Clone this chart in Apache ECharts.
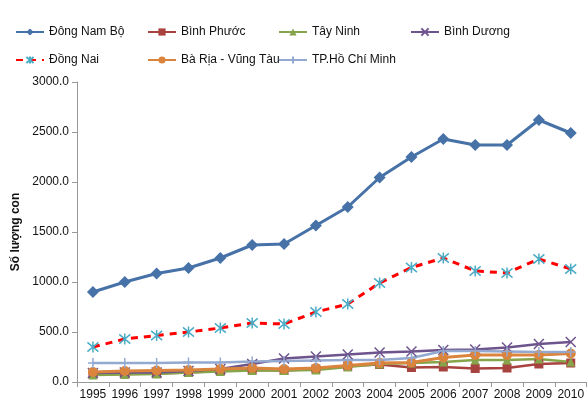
<!DOCTYPE html>
<html>
<head>
<meta charset="utf-8">
<script src="https://cdn.jsdelivr.net/npm/echarts@6/dist/echarts.min.js"></script>
<style>
  html, body { margin: 0; padding: 0; background: #fff; }
  #chart { width: 587px; height: 405px; }
</style>
</head>
<body>
<div id="chart"></div>
<script>
// Số lượng con theo năm, vùng Đông Nam Bộ và các tỉnh
const years = ['1995','1996','1997','1998','1999','2000','2001','2002','2003','2004','2005','2006','2007','2008','2009','2010'];
const dongNamBo = [900,1000,1085,1140,1240,1370,1380,1565,1750,2045,2250,2430,2370,2370,2620,2490];
const binhPhuoc = [80,80,85,95,110,120,115,130,160,175,145,150,135,140,180,190];
const tayNinh   = [70,75,80,95,105,115,115,120,150,180,190,200,220,220,230,200];
const binhDuong = [90,95,95,110,130,180,235,255,275,295,305,320,325,345,380,400];
const dongNai   = [350,430,465,500,540,590,580,700,780,990,1145,1240,1110,1090,1230,1130];
const baRia     = [100,110,115,120,130,140,130,140,165,190,195,245,270,270,270,285];
const tpHcm     = [190,190,190,195,195,205,210,215,220,220,240,310,310,305,300,300];
const yTicks    = [0, 500, 1000, 1500, 2000, 2500, 3000];

const FONT = '"Liberation Sans", Arial, sans-serif';
const ASTERISK = 'path://M0,0L10,10M10,0L0,10M5,-1L5,11';
const CROSS = 'path://M0,0L10,10M10,0L0,10';
const PLUS = 'path://M5,0L5,10M0,5L10,5';

const seriesDefs = [
  { name: 'Đông Nam Bộ', data: dongNamBo, color: '#4672a8', width: 3, symbol: 'diamond', size: 12 },
  { name: 'Bình Phước', data: binhPhuoc, color: '#a8423f', width: 2.5, symbol: 'rect', size: 9 },
  { name: 'Tây Ninh', data: tayNinh, color: '#86a44a', width: 2.5, symbol: 'triangle', size: 9 },
  { name: 'Bình Dương', data: binhDuong, color: '#6e548d', width: 2.5, symbol: CROSS, size: 10, stroke: true },
  { name: 'Đồng Nai', data: dongNai, color: '#ff0000', width: 3, symbol: ASTERISK, size: 11, stroke: true, markColor: '#4bacc6', dashed: true },
  { name: 'Bà Rịa - Vũng Tàu', data: baRia, color: '#db843d', width: 3, symbol: 'circle', size: 10 },
  { name: 'TP.Hồ Chí Minh', data: tpHcm, color: '#93a9d0', width: 2.5, symbol: PLUS, size: 10, stroke: true }
];

const series = seriesDefs.map(d => {
  const mc = d.markColor || d.color;
  return {
    name: d.name,
    type: 'line',
    data: d.data,
    symbol: d.symbol,
    symbolSize: d.size,
    showAllSymbol: true,
    lineStyle: { color: d.color, width: d.width, type: d.dashed ? [7, 6] : 'solid' },
    itemStyle: d.stroke
      ? { color: mc, borderColor: mc, borderWidth: 1.5, opacity: 1 }
      : { color: mc, borderWidth: 0 },
    emphasis: { disabled: true },
    animation: false
  };
});

// legend laid out in a 4-column, 2-row block
const legendPos = [
  [15, 26], [147, 26], [278, 26], [410, 26],
  [15, 54], [147, 54], [278, 54]
];
const legends = seriesDefs.map((d, i) => ({
  data: [d.name],
  left: legendPos[i][0],
  top: legendPos[i][1],
  padding: 0,
  itemWidth: 28,
  itemHeight: 9,
  selectedMode: false,
  textStyle: { fontFamily: FONT, fontSize: 12, color: '#111' }
}));

const chart = echarts.init(document.getElementById('chart'), null, { renderer: 'canvas' });
chart.setOption({
  backgroundColor: '#ffffff',
  animation: false,
  legend: legends,
  grid: { left: 77, right: -2, top: 82, bottom: 23, containLabel: false },
  xAxis: {
    type: 'category',
    data: years,
    boundaryGap: true,
    axisLine: { lineStyle: { color: '#999', width: 1 } },
    axisTick: { show: true, length: 5, lineStyle: { color: '#999' } },
    axisLabel: { fontFamily: FONT, fontSize: 12, color: '#111', margin: 7, interval: 0 }
  },
  yAxis: {
    type: 'value',
    min: yTicks[0],
    max: yTicks[yTicks.length - 1],
    interval: yTicks[1] - yTicks[0],
    name: 'Số lượng con',
    nameLocation: 'middle',
    nameGap: 52,
    nameRotate: 90,
    nameTextStyle: { fontFamily: FONT, fontSize: 12, fontWeight: 'bold', color: '#111' },
    axisLine: { show: true, lineStyle: { color: '#999', width: 1 } },
    axisTick: { show: true, length: 5, lineStyle: { color: '#999' } },
    splitLine: { show: false },
    axisLabel: {
      fontFamily: FONT, fontSize: 12, color: '#111', margin: 8,
      formatter: v => v.toFixed(1)
    }
  },
  series: series
});
</script>
</body>
</html>
